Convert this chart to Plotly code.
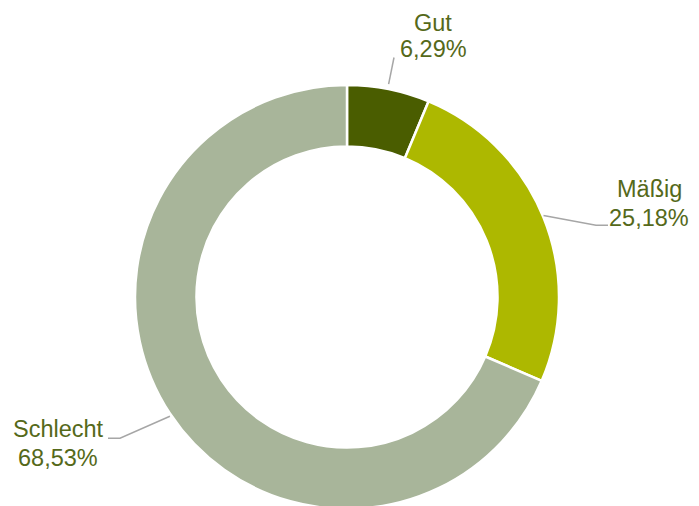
import math
import plotly.graph_objects as go

# Daten
kategorien = ["Gut", "Mäßig", "Schlecht"]
anteile = [6.29, 25.18, 68.53]
farben = ["#4a5d00", "#adb800", "#a8b59a"]
beschriftung = ["6,29%", "25,18%", "68,53%"]

W, H = 699, 506
OFF = 8  # body margin of the html page
L, T, S = 135 - OFF, 80 - OFF, 424  # plot area (pixel)


def px2paper(x, y):
    # x, y in reference picture pixels
    return (x - OFF - L) / S, 1 - (y - OFF - T) / S


fig = go.Figure(go.Pie(
    labels=kategorien,
    values=anteile,
    marker=dict(colors=farben, line=dict(color="white", width=2.5)),
    hole=0.71,
    sort=False,
    direction="clockwise",
    rotation=0,
    textinfo="none",
    hoverinfo="label+percent",
    showlegend=False,
))

# Position der Beschriftungen (Name, Prozent) + Knickpunkte der Führungslinien
text_x = [433, 649, 58]
name_y = [24, 186, 421]
proz_y = [50, 215, 449]
knick = [[(394, 58)], [(596, 222), (608, 222)], [(120, 430), (108, 430)]]

summe = sum(anteile)
kum = 0
for i, v in enumerate(anteile):
    mitte = (kum + v / 2) / summe * 2 * math.pi
    kum += v
    # Startpunkt am Außenrand des Rings (paper-Koordinaten)
    x0 = 0.5 + 0.5 * math.sin(mitte)
    y0 = 0.5 + 0.5 * math.cos(mitte)
    pfad = "M %f,%f" % (x0, y0)
    for (kx, ky) in knick[i]:
        xx, yy = px2paper(kx, ky)
        pfad += " L %f,%f" % (xx, yy)
    fig.add_shape(type="path", path=pfad, xref="paper", yref="paper",
                  line=dict(color="#a6a6a6", width=1.5))
    for txt, ty in [(kategorien[i], name_y[i]), (beschriftung[i], proz_y[i])]:
        ax, ay = px2paper(text_x[i], ty)
        fig.add_annotation(x=ax, y=ay, xref="paper", yref="paper",
                           text=txt, showarrow=False,
                           xanchor="center", yanchor="middle",
                           font=dict(size=23.5, color="#55691a",
                                     family="Liberation Sans, Arial, sans-serif"))

fig.update_layout(
    width=W, height=H,
    margin=dict(l=L, t=T, r=W - L - S, b=0),
    paper_bgcolor="white",
    plot_bgcolor="white",
)

fig.write_html("out.html")
